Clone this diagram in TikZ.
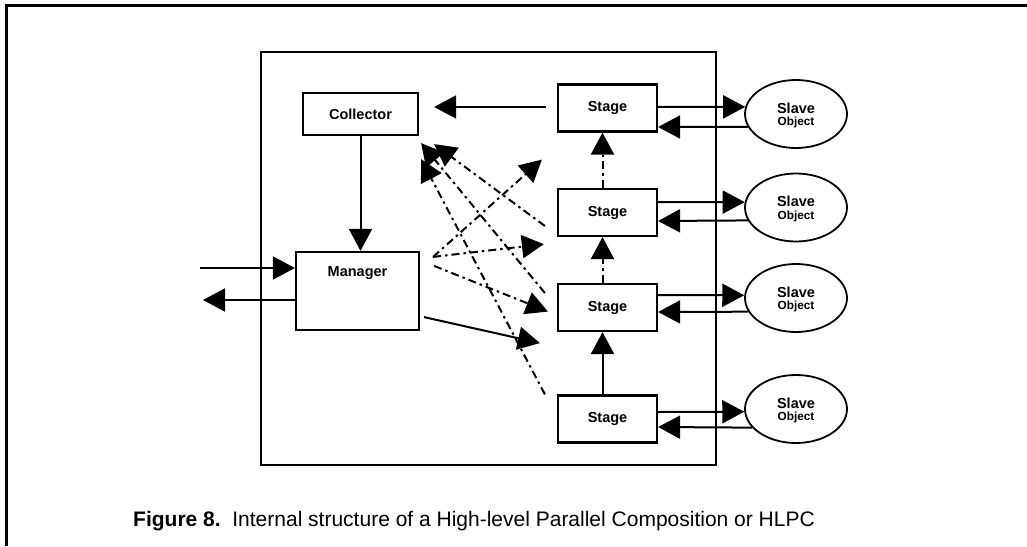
\documentclass[tikz,border=0pt]{standalone}
\usepackage{fontspec}
\setmainfont{Liberation Sans}
\usetikzlibrary{arrows.meta,calc,shapes.geometric}
\begin{document}
\begin{tikzpicture}[x=1pt,y=-1pt,
  box/.style={draw,line width=2.2pt,inner sep=0pt},
  lbl/.style={font=\fontsize{14.5}{16}\selectfont\bfseries},
  stagebox/.style={box,minimum width=99pt,minimum height=47pt,lbl},
  slave/.style={draw,line width=1.8pt,ellipse,minimum width=102pt,minimum height=68pt,inner sep=0pt},
  slavetxt/.style={inner sep=0pt,font=\fontsize{14.5}{16}\selectfont\bfseries},
  objtxt/.style={inner sep=0pt,font=\fontsize{11.8}{13}\selectfont\bfseries},
  arr/.style={line width=2pt,-{Triangle[length=22pt,width=23pt]}},
  dd/.style={arr,dash pattern=on 8pt off 4pt on 2.5pt off 4pt}
]
\useasboundingbox (0,0) rectangle (1027,546);
\draw[line width=3pt] (6,546) -- (6,5) -- (1027,5);
\node[box,line width=2.6pt,minimum width=455pt,minimum height=413pt] (hlpc) at (488.5,258.5) {};

\node[box,minimum width=115pt,minimum height=42pt,lbl] (col) at (360.5,114) {Collector};
\node[box,minimum width=123pt,minimum height=78pt] (man) at (357.5,291) {};
\node[lbl] (manlbl) at (357.5,273) {Manager};

\node[stagebox] (s1) at (607.5,108) {Stage};
\node[stagebox] (s2) at (607.5,212.5) {Stage};
\node[stagebox] (s3) at (607.5,307.5) {Stage};
\node[stagebox] (s4) at (607.5,419) {Stage};

\node[slave] (e1) at (796,114) {};
\node[slave] (e2) at (796,207.5) {};
\node[slave] (e3) at (796,298) {};
\node[slave] (e4) at (796,409) {};
\foreach \e in {e1,e2,e3,e4}{
  \node[slavetxt] (\e s) at ([yshift=6pt]\e.center) {Slave};
  \node[objtxt] (\e o) at ([yshift=-8.5pt]\e.center) {Object};
}

% stage <-> slave
\draw[arr] ([yshift=1pt]s1.east) -- (e1.172);
\draw[arr] (e1.195) -- ([yshift=-19pt]s1.east);
\draw[arr] ([yshift=10.5pt]s2.east) -- (e2.174);
\draw[arr] (e2.195) -- ([yshift=-8.5pt]s2.east);
\draw[arr] ([yshift=12.5pt]s3.east) -- (e3.177);
\draw[arr] (e3.196) -- ([yshift=-4.5pt]s3.east);
\draw[arr] ([yshift=7pt]s4.east) -- (e4.183);
\draw[arr] (e4.203) -- ([yshift=-8pt]s4.east);

% stage chain
\draw[arr] ([xshift=-5pt]s4.north) -- ([xshift=-5pt]s3.south);
\draw[dd] ([xshift=-5pt]s3.north) -- ([xshift=-5pt]s2.south);
\draw[dd] ([xshift=-5pt]s2.north) -- ([xshift=-5pt]s1.south);

% collector / manager
\draw[arr] (col.south) -- (col.south |- man.north);
\draw[arr] ($(s1.west)+(-11,-1)$) -- ($(col.east)+(15,-7)$);
\coordinate (inp) at (200,268);
\coordinate (outp) at (203,300);
\draw[arr] (inp) -- ($(man.west)+(0,-23)$);
\draw[arr] ($(man.west)+(0,9)$) -- (outp);

% dash-dotted to collector
\draw[dd] ($(s2.west)+(-12,13.5)$) -- ($(col.south east)+(15,8)$);
\draw[dd] ($(s3.west)+(-12,-14.5)$) -- ($(col.south east)+(2,7)$);
\draw[dd] ($(s4.north west)+(-12,0)$) -- ($(col.south east)+(2,23)$);

% from manager
\coordinate (mo) at ($(man.north east)+(13,6)$);
\draw[dd] (mo) -- ($(s1.south west)+(-15,27)$);
\draw[dd] (mo) -- ($(s2.south west)+(-13,7)$);
\draw[dd] ($(man.north east)+(14,15)$) -- ($(s3.west)+(-9,4)$);
\draw[arr] ($(man.south east)+(4,-14)$) -- ($(s3.south west)+(-17,11)$);

\node[anchor=base west,font=\fontsize{21}{24}\selectfont,inner sep=0pt] (cap) at (133,526) {\textbf{Figure 8.}\ \ Internal structure of a High-level Parallel Composition or HLPC};
\end{tikzpicture}
\end{document}
